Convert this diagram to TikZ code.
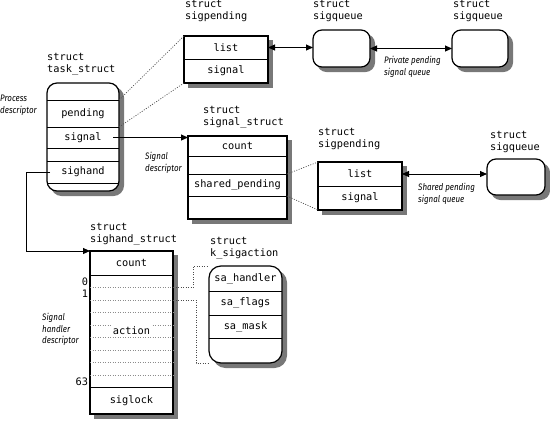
\documentclass[tikz,border=0pt]{standalone}
\usepackage{fontspec}
\usetikzlibrary{arrows.meta}
\newfontfamily\codefont{DejaVu Sans Mono}
\newfontfamily\notefont[FakeStretch=0.85]{Fira Sans}
\definecolor{shadowgray}{RGB}{120,120,120}

\begin{document}
\begin{tikzpicture}[x=1pt,y=-1pt]
    \tikzstyle{box} = [draw, line width=1.2pt, fill=white, inner sep=0, outer sep=0]
    \tikzstyle{roundbox} = [box, rounded corners=10pt]
    \tikzstyle{boxshadow} = [fill=shadowgray, draw=shadowgray, line width=1pt, inner sep=0, outer sep=0]
    \tikzstyle{field} = [inner sep=0, outer sep=0, font=\codefont\fontsize{10.3}{12}\selectfont]
    \tikzstyle{title} = [anchor=north west, align=left, inner sep=0, font=\codefont\fontsize{10.3}{12}\selectfont]
    \tikzstyle{note} = [anchor=north west, align=left, inner sep=0, text=black, font=\notefont\itshape\fontsize{9.4}{11.5}\selectfont]
    \tikzstyle{divider} = [line width=0.9pt]
    \tikzstyle{link} = [line width=0.9pt, -{Triangle[length=7pt,width=6pt]}]
    \tikzstyle{dlink} = [line width=0.9pt, {Triangle[length=7pt,width=6pt]}-{Triangle[length=7pt,width=6pt]}]
    \tikzstyle{expand} = [line width=0.7pt, black!70, dash pattern=on 1pt off 1.5pt]
    \tikzstyle{slot} = [line width=0.6pt, black!45, dash pattern=on 1pt off 1.5pt]

    \useasboundingbox (0,0) rectangle (550,424);

    % Shadows
    \node[boxshadow, rounded corners=10pt, minimum width=72pt, minimum height=108pt] (stask) at (87.5,141.5) {};
    \node[boxshadow, minimum width=84pt, minimum height=47pt] (spend1) at (230.5,64) {};
    \node[boxshadow, rounded corners=9pt, minimum width=57pt, minimum height=37pt] (squeue1) at (346,53) {};
    \node[boxshadow, rounded corners=9pt, minimum width=56pt, minimum height=37pt] (squeue2) at (484.5,53) {};
    \node[boxshadow, minimum width=99pt, minimum height=83pt] (ssigstruct) at (242,182) {};
    \node[boxshadow, minimum width=84pt, minimum height=48pt] (spend2) at (364.5,190.5) {};
    \node[boxshadow, rounded corners=9pt, minimum width=58pt, minimum height=36pt] (squeue3) at (520.5,181.5) {};
    \node[boxshadow, minimum width=83pt, minimum height=163pt] (ssighand) at (136,337) {};
    \node[boxshadow, rounded corners=12pt, minimum width=73pt, minimum height=97pt] (sksig) at (250,319) {};

    % Process descriptor
    \node[roundbox, minimum width=72pt, minimum height=108pt] (task) at (83,137) {};
    \node[field, minimum width=72pt, minimum height=27pt] (tpending) at (83,113.5) {pending};
    \node[field, minimum width=72pt, minimum height=21pt] (tsignal) at (83,137.5) {signal};
    \node[field, minimum width=72pt, minimum height=22pt] (tsighand) at (83,172) {sighand};
    \draw[divider] (tpending.north west) -- (tpending.north east);
    \draw[divider] (tpending.south west) -- (tpending.south east);
    \draw[divider] (tsignal.south west) -- (tsignal.south east);
    \draw[divider] (tsighand.north west) -- (tsighand.north east);
    \draw[divider] (tsighand.south west) -- (tsighand.south east);
    \node[title] (headtask) at (47,53.5) {struct\\task\_struct};
    \node[note] (nproc) at (0,95) {Process\\descriptor};

    % Private pending queue
    \node[box, minimum width=84pt, minimum height=47pt] (pend1) at (226,59.5) {};
    \node[field, minimum width=84pt, minimum height=23pt] (p1list) at (226,47.5) {list};
    \node[field, minimum width=84pt, minimum height=24pt] (p1signal) at (226,71) {signal};
    \draw[divider] (p1list.south west) -- (p1list.south east);
    \node[title] (headpend1) at (185,0.5) {struct\\sigpending};
    \node[roundbox, rounded corners=9pt, minimum width=57pt, minimum height=37pt] (queue1) at (341.5,48.5) {};
    \node[title] (headqueue1) at (313,0.5) {struct\\sigqueue};
    \node[roundbox, rounded corners=9pt, minimum width=56pt, minimum height=37pt] (queue2) at (480,48.5) {};
    \node[title] (headqueue2) at (453,0.5) {struct\\sigqueue};
    \node[note] (npriv) at (384,56) {Private pending\\signal queue};

    % Signal descriptor
    \node[box, minimum width=99pt, minimum height=83pt] (sigstruct) at (237.5,177.5) {};
    \node[field, minimum width=99pt, minimum height=20pt] (scount) at (237.5,146) {count};
    \node[field, minimum width=99pt, minimum height=22pt] (sshared) at (237.5,185) {shared\_pending};
    \draw[divider] (scount.south west) -- (scount.south east);
    \draw[divider] (sshared.north west) -- (sshared.north east);
    \draw[divider] (sshared.south west) -- (sshared.south east);
    \node[title] (headsigstruct) at (203,106.5) {struct\\signal\_struct};
    \node[note] (nsig) at (145,152) {Signal\\descriptor};

    % Shared pending queue
    \node[box, minimum width=84pt, minimum height=48pt] (pend2) at (360,186) {};
    \node[field, minimum width=84pt, minimum height=24pt] (p2list) at (360,174) {list};
    \node[field, minimum width=84pt, minimum height=24pt] (p2signal) at (360,198) {signal};
    \draw[divider] (p2list.south west) -- (p2list.south east);
    \node[title] (headpend2) at (318,128.5) {struct\\sigpending};
    \node[roundbox, rounded corners=9pt, minimum width=58pt, minimum height=36pt] (queue3) at (516,177) {};
    \node[title] (headqueue3) at (490,131.5) {struct\\sigqueue};
    \node[note] (nshared) at (418,183) {Shared pending\\signal queue};

    % Signal handler descriptor
    \node[box, minimum width=83pt, minimum height=163pt] (sighand) at (131.5,332.5) {};
    \node[field, minimum width=83pt, minimum height=24pt] (hcount) at (131.5,263) {count};
    \node[field, minimum width=83pt, minimum height=27pt] (hsiglock) at (131.5,400.5) {siglock};
    \draw[divider] (hcount.south west) -- (hcount.south east);
    \draw[divider] (hsiglock.north west) -- (hsiglock.north east);
    \foreach \k in {1,...,8}
        \draw[slot] (sighand.west |- 0,{275+12.5*\k}) -- (sighand.east |- 0,{275+12.5*\k});
    \node[field, minimum width=83pt, minimum height=12.5pt] (slot0) at (131.5,281.25) {};
    \node[field, minimum width=83pt, minimum height=12.5pt] (slot1) at (131.5,293.75) {};
    \node[field, minimum width=83pt, minimum height=12.5pt] (slot63) at (131.5,381.25) {};
    \node[field, anchor=east] (idx0) at ([xshift=-2pt]slot0.west) {0};
    \node[field, anchor=east] (idx1) at ([xshift=-2pt]slot1.west) {1};
    \node[field, anchor=east] (idx63) at ([xshift=-2pt]slot63.west) {63};
    \node[field, fill=white, inner sep=2pt] (haction) at (131.5,331) {action};
    \node[title] (headsighand) at (90,223.5) {struct\\sighand\_struct};
    \node[note] (nhand) at (42,313) {Signal\\handler\\descriptor};

    % Signal action
    \node[roundbox, rounded corners=12pt, minimum width=73pt, minimum height=97pt] (ksig) at (245.5,314.5) {};
    \node[field, minimum width=73pt, minimum height=25pt] (khandler) at (245.5,278.5) {sa\_handler};
    \node[field, minimum width=73pt, minimum height=24pt] (kflags) at (245.5,303) {sa\_flags};
    \node[field, minimum width=73pt, minimum height=23pt] (kmask) at (245.5,326.5) {sa\_mask};
    \draw[divider] (khandler.south west) -- (khandler.south east);
    \draw[divider] (kflags.south west) -- (kflags.south east);
    \draw[divider] (kmask.south west) -- (kmask.south east);
    \node[title] (headksig) at (210,237.5) {struct\\k\_sigaction};

    % Connections
    \draw[link] ([xshift=-6pt]tsignal.east) -- (tsignal -| sigstruct.west);
    \draw[link] ([xshift=3pt]tsighand.west) -- ++(-24,0) |- (sighand.north west);
    \draw[dlink] (p1list -| pend1.east) -- (p1list -| queue1.west);
    \draw[dlink] (queue1.east) -- (queue2.west);
    \draw[dlink] (p2list -| pend2.east) -- (p2list -| queue3.west);
    \draw[expand] (tpending.north east) -- (pend1.north west);
    \draw[expand] (tpending.south east) -- (pend1.south west);
    \draw[expand] (sshared.north east) -- (pend2.north west);
    \draw[expand] (sshared.south east) -- (pend2.south west);
    \draw[expand] (slot1.north east) -- ++(20,0) |- (ksig.north west);
    \draw[expand] (slot1.south east) -- ++(23,0) |- (ksig.south west);
\end{tikzpicture}
\end{document}
